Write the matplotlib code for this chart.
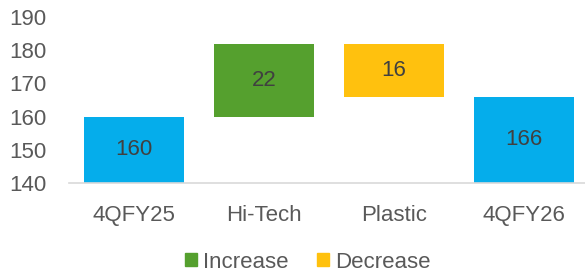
import matplotlib.pyplot as plt
from matplotlib.patches import Patch

# dados do waterfall
categorias = ['4QFY25', 'Hi-Tech', 'Plastic', '4QFY26']
valores = [160, 22, -16, 166]
tipos = ['total', 'aumento', 'queda', 'total']
legenda_nomes = ['Increase', 'Decrease']

cores = {'total': '#05ADEB', 'aumento': '#55A02E', 'queda': '#FFC10E'}

plt.rcParams['font.family'] = ['Liberation Sans', 'DejaVu Sans']
tam = 16

fig = plt.figure(figsize=(5.85, 2.74), dpi=100)
ax = fig.add_axes([69 / 585, 91 / 274, 1 - 69 / 585, 166 / 274])

y_min = 140
acumulado = 0
for i, (cat, v, t) in enumerate(zip(categorias, valores, tipos)):
    if t == 'total':
        base = y_min
        topo = v
        acumulado = v
        rotulo = str(v)
    else:
        base = acumulado
        topo = acumulado + v
        acumulado = topo
        rotulo = str(abs(v))
    inferior, superior = min(base, topo), max(base, topo)
    ax.bar(i, superior - inferior, bottom=inferior, width=0.77,
           color=cores[t], zorder=2)
    ax.text(i, (inferior + superior) / 2, rotulo, ha='center', va='center',
            fontsize=tam, color='#404040')

ax.set_ylim(140, 190)
ax.set_xlim(-0.5, 3.47)
ax.set_yticks(range(140, 191, 10))
ax.set_xticks(range(len(categorias)))
ax.set_xticklabels(categorias)

for lado in ['top', 'right', 'left']:
    ax.spines[lado].set_visible(False)
ax.spines['bottom'].set_color('#D9D9D9')
ax.spines['bottom'].set_linewidth(1.2)
ax.tick_params(axis='y', length=0, pad=16, labelsize=tam, labelcolor='#595959')
ax.tick_params(axis='x', length=0, pad=16, labelsize=tam, labelcolor='#595959')

handles = [Patch(color=cores['aumento'], label=legenda_nomes[0]),
           Patch(color=cores['queda'], label=legenda_nomes[1])]
fig.legend(handles=handles, loc='center', bbox_to_anchor=(307.5 / 585, 1 - 262 / 274),
           ncol=2, frameon=False, fontsize=tam, labelcolor='#595959',
           handlelength=0.55, handleheight=0.55, handletextpad=0.25,
           columnspacing=1.3, borderpad=0)

fig.savefig('out.png', dpi=100)
